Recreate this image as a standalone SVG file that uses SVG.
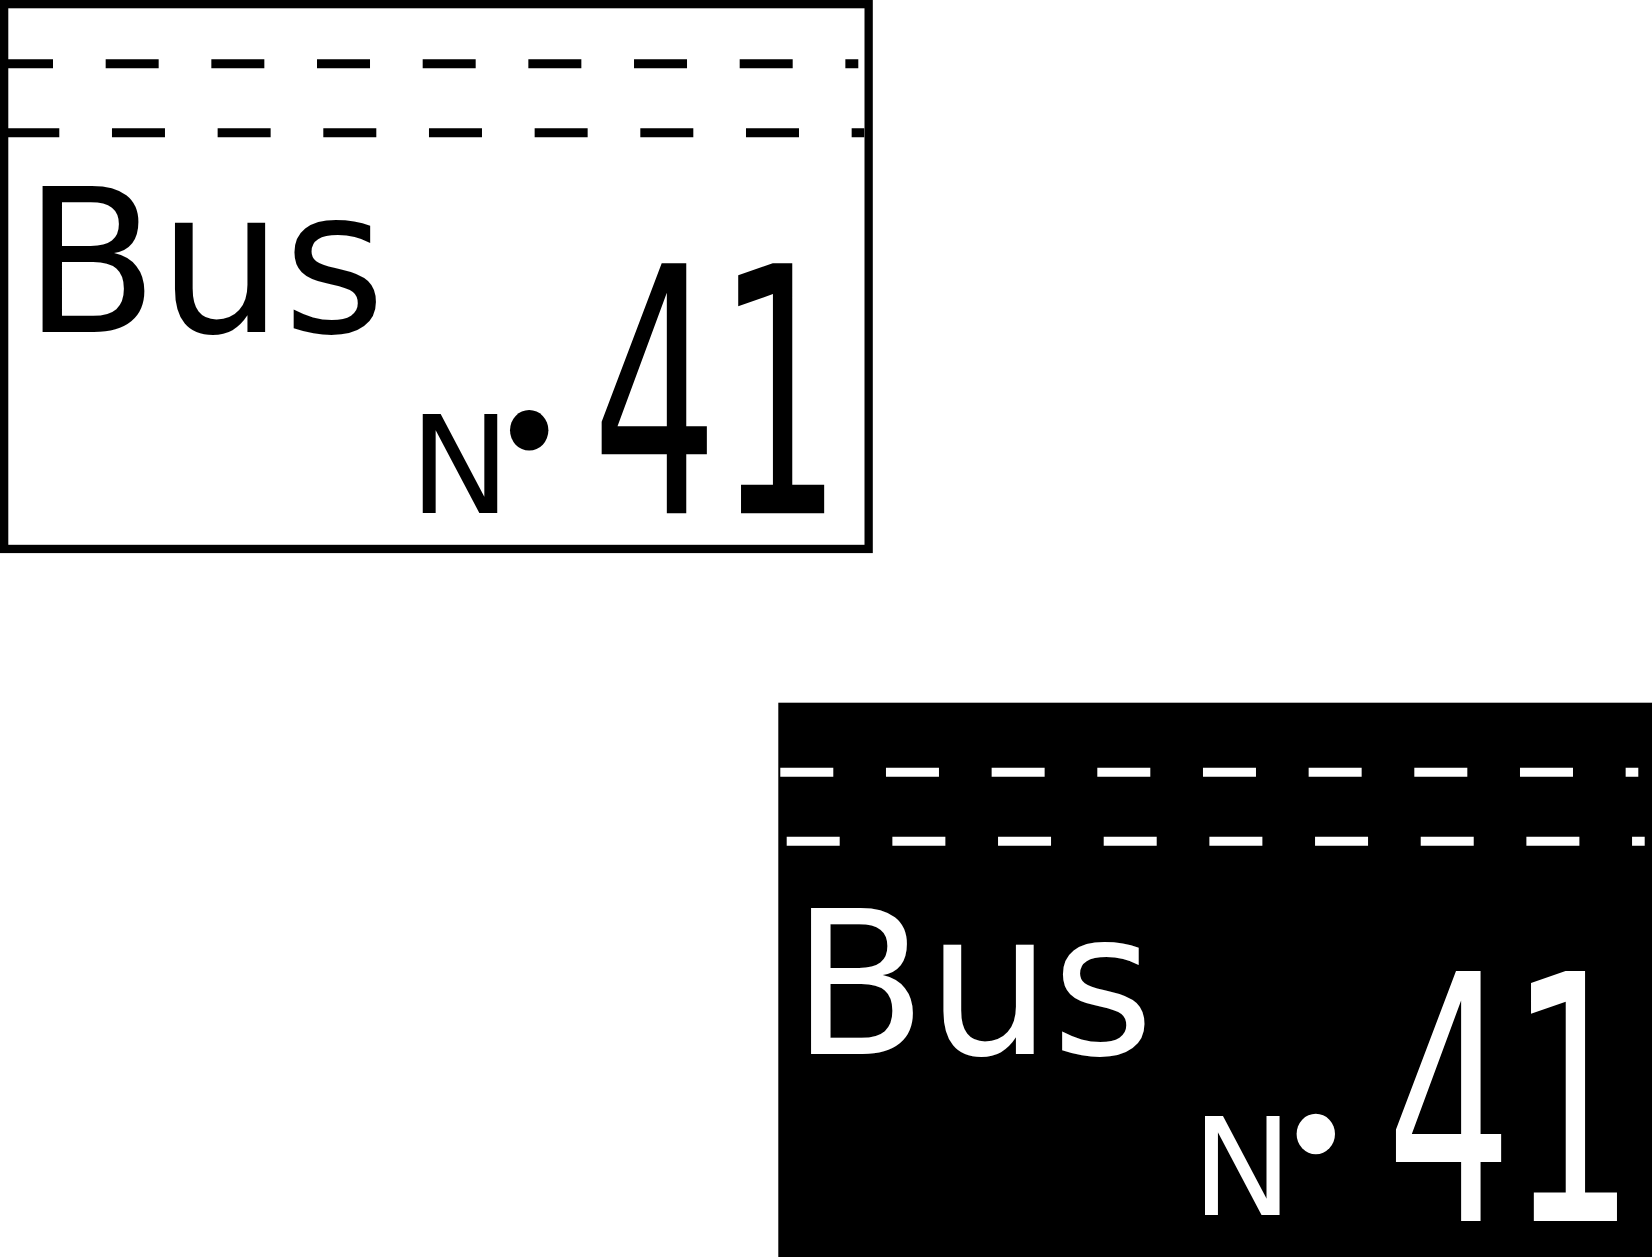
<svg xmlns="http://www.w3.org/2000/svg" width="1652" height="1257" viewBox="0 0 1652 1257">
<style>
.dash{fill:none;stroke-width:9;stroke-dasharray:53 52.67}
.t{font-family:"DejaVu Sans","Bitstream Vera Sans",sans-serif}
.bus{font-size:200px}
.no{font-size:135px}
.num{font-size:198px}
.dk .dash{stroke:#000}
.dk text,.dk ellipse{fill:#000}
.lt .dash{stroke:#fff}
.lt text,.lt ellipse{fill:#fff}
</style>
<rect width="1652" height="1257" fill="#fff"/>
<g id="sign-outline" class="dk">
<rect x="4.15" y="4.15" width="864.5" height="544.8" fill="none" stroke="#000" stroke-width="8.3"/>
<line class="dash" x1="0" y1="63.8" x2="858.3" y2="63.8"/>
<line class="dash" x1="6.3" y1="132.8" x2="864.3" y2="132.8"/>
<text class="t bus" transform="translate(23.3,331.7) scale(0.984,1)" x="0" y="0">Bus</text>
<text class="t no" x="409.5" y="512.7">N</text>
<ellipse cx="529.2" cy="430.3" rx="19.2" ry="20.3"/>
<text class="t num" transform="translate(592,513.3) scale(1,1.732)" x="0" y="0" letter-spacing="-1.5">41</text>
</g>
<g id="sign-filled" class="lt">
<rect x="778.3" y="702.7" width="873.7" height="554.3" fill="#000"/>
<line class="dash" x1="780.3" y1="772.2" x2="1638.3" y2="772.2"/>
<line class="dash" x1="786.7" y1="841.2" x2="1644.7" y2="841.2"/>
<text class="t bus" transform="translate(791.7,1054) scale(0.984,1)" x="0" y="0">Bus</text>
<text class="t no" x="1191.75" y="1215.3">N</text>
<ellipse cx="1315.8" cy="1134" rx="19.2" ry="20.3"/>
<text class="t num" transform="translate(1386.3,1221) scale(1,1.732)" x="0" y="0" letter-spacing="-3">41</text>
</g>
</svg>
